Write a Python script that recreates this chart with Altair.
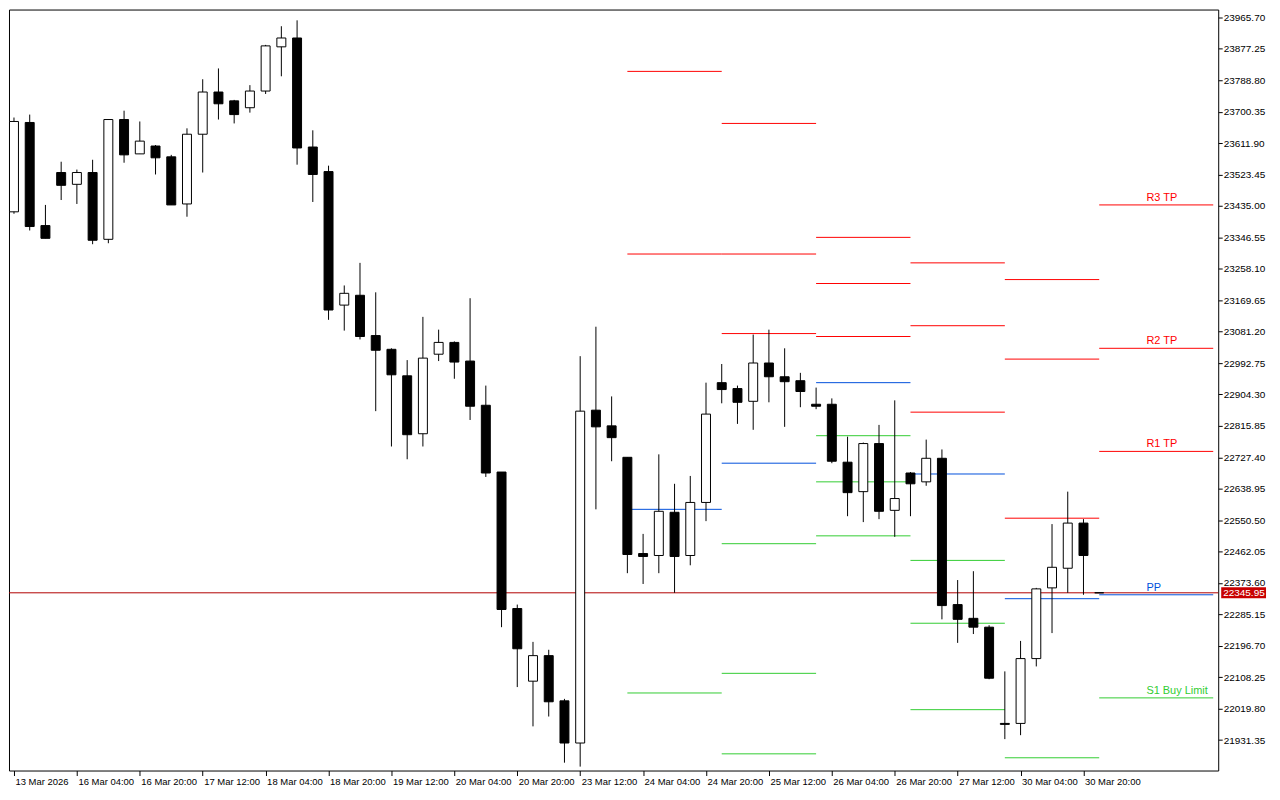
import altair as alt
import pandas as pd

# ---------------- candle data (4h, NAS100-like) ----------------
opens = [23418.4, 23669.9, 23379.7, 23529.0, 23495.8, 23529.0, 23341.0, 23678.2, 23581.5, 23603.6,
         23573.2, 23440.5, 23636.8, 23755.6, 23730.8, 23711.4, 23758.4, 23882.8, 23907.7, 23600.8,
         23531.7, 23155.8, 23183.5, 23070.1, 23031.4, 22956.8, 22793.7, 23017.6, 23050.8, 22998.3,
         22873.9, 22685.9, 22301.7, 22097.2, 22169.1, 22041.9, 21923.1, 22860.1, 22815.9, 22727.4,
         22456.5, 22451.0, 22572.6, 22451.0, 22600.3, 22937.5, 22920.9, 22885.0, 22992.8, 22954.1,
         22943.0, 22876.7, 22876.7, 22713.6, 22630.7, 22766.1, 22578.1, 22683.2, 22658.3, 22724.6,
         22312.8, 22274.1, 22249.2, 21978.3, 21978.3, 22160.8, 22359.8, 22415.1, 22542.2, 22346.0]
highs = [23683.8, 23692.1, 23437.8, 23559.4, 23537.3, 23564.9, 23678.2, 23703.1, 23672.7, 23606.4,
         23578.7, 23653.4, 23791.6, 23822.0, 23733.5, 23775.0, 23888.3, 23940.8, 23957.4, 23647.8,
         23548.3, 23211.1, 23274.7, 23191.8, 23034.2, 23001.0, 23122.7, 23086.7, 23053.6, 23175.2,
         22929.2, 22685.9, 22312.8, 22207.8, 22185.6, 22047.4, 23012.1, 23095.0, 22898.8, 22727.4,
         22511.8, 22735.7, 22652.8, 22674.9, 22937.5, 22990.0, 22929.2, 23072.9, 23086.7, 23034.2,
         22965.1, 22923.6, 22893.2, 22785.4, 22768.9, 22818.6, 22887.7, 22685.9, 22777.2, 22749.5,
         22381.9, 22406.8, 22254.7, 22124.8, 22210.5, 22359.8, 22539.4, 22630.7, 22553.3, 22346.0]
lows = [23412.9, 23365.9, 23343.8, 23451.6, 23440.5, 23327.2, 23330.0, 23556.6, 23581.5, 23523.5,
        23437.8, 23404.6, 23529.0, 23678.2, 23667.2, 23697.6, 23750.1, 23799.9, 23551.1, 23446.1,
        23114.4, 23084.0, 23059.1, 22857.3, 22757.8, 22721.9, 22757.8, 22998.3, 22948.5, 22832.4,
        22672.1, 22249.2, 22080.6, 21970.0, 21997.7, 21867.8, 21856.7, 22580.9, 22716.3, 22401.2,
        22370.8, 22401.2, 22346.0, 22423.4, 22547.7, 22879.4, 22821.4, 22804.8, 22882.2, 22813.1,
        22868.4, 22862.8, 22710.8, 22561.6, 22545.0, 22553.3, 22503.5, 22561.6, 22647.2, 22271.3,
        22205.0, 22229.9, 22102.7, 21934.1, 21945.2, 22138.7, 22232.6, 22346.0, 22340.4, 22345.9]
closes = [23672.7, 23377.0, 23343.8, 23493.0, 23529.0, 23338.3, 23678.2, 23578.7, 23617.4, 23570.4,
          23437.8, 23636.8, 23755.6, 23722.5, 23692.1, 23758.4, 23885.5, 23907.7, 23598.1, 23523.5,
          23142.0, 23189.0, 23067.4, 23028.7, 22959.6, 22791.0, 23006.6, 23050.8, 22995.5, 22871.1,
          22683.2, 22299.0, 22188.4, 22169.1, 22039.2, 21923.1, 22857.3, 22813.1, 22782.7, 22453.8,
          22448.2, 22575.4, 22448.2, 22600.3, 22849.0, 22918.1, 22882.2, 22992.8, 22954.1, 22940.2,
          22912.6, 22871.1, 22716.3, 22627.9, 22766.1, 22575.4, 22611.3, 22652.8, 22724.6, 22310.0,
          22271.3, 22249.2, 22105.5, 21975.6, 22160.8, 22357.0, 22417.8, 22542.2, 22451.0, 22345.95]

# ---------------- daily pivot levels (segments) ----------------
seg_start = [39, 45, 51, 57, 63, 69]
seg_end = [45, 51, 57, 63, 69, 76.25]
R3 = [None, 23667.2, 23346.5, 23274.7, 23227.7, 23437.8]
R2 = [23813.7, 23299.6, 23216.6, 23097.8, 23003.8, 23034.2]
R1 = [23299.6, 23075.7, 23067.4, 22854.5, 22556.0, 22744.0]
PP = [22580.9, 22710.8, 22937.5, 22680.4, 22329.4, 22340.4]
S1 = [22064.0, 22484.2, 22788.2, 22437.2, 21881.6, 22050.2]
S2 = [None, 22119.3, 22658.3, 22260.3, None, None]
S3 = [None, 21892.7, 22506.3, 22017.0, None, None]

level_labels = ["R3 TP", "R2 TP", "R1 TP", "PP", "S1 Buy Limit"]
level_label_kind = ["R", "R", "R", "P", "S"]
level_label_x = 72

current_price = 22345.95

# ---------------- axis labels ----------------
x_tick_idx = [0, 4, 8, 12, 16, 20, 24, 28, 32, 36, 40, 44, 48, 52, 56, 60, 64, 68]
x_tick_labels = ["13 Mar 2026", "16 Mar 04:00", "16 Mar 20:00", "17 Mar 12:00", "18 Mar 04:00",
                 "18 Mar 20:00", "19 Mar 12:00", "20 Mar 04:00", "20 Mar 20:00", "23 Mar 12:00",
                 "24 Mar 04:00", "24 Mar 20:00", "25 Mar 12:00", "26 Mar 04:00", "26 Mar 20:00",
                 "27 Mar 12:00", "30 Mar 04:00", "30 Mar 20:00"]
y_ticks = [23965.70, 23877.25, 23788.80, 23700.35, 23611.90, 23523.45, 23435.00, 23346.55,
           23258.10, 23169.65, 23081.20, 22992.75, 22904.30, 22815.85, 22727.40, 22638.95,
           22550.50, 22462.05, 22373.60, 22285.15, 22196.70, 22108.25, 22019.80, 21931.35]

# ---------------- build tables ----------------
candles = pd.DataFrame({"i": list(range(len(opens))), "o": opens, "h": highs, "l": lows, "c": closes})

rows = []
for k in range(len(seg_start)):
    for kind, arr in (("R", R3), ("R", R2), ("R", R1), ("P", PP), ("S", S1), ("S", S2), ("S", S3)):
        if arr[k] is not None:
            rows.append({"x0": seg_start[k], "x1": seg_end[k], "y": arr[k], "kind": kind})
levels = pd.DataFrame(rows)

last = len(seg_start) - 1
lab_vals = [R3[last], R2[last], R1[last], PP[last], S1[last]]
labels_df = pd.DataFrame({"x": [level_label_x] * 5, "y": lab_vals, "t": level_labels, "kind": level_label_kind})

price_df = pd.DataFrame({"p": [current_price], "t": [f"{current_price:.2f}"]})

W, H = 1214, 764
FONT = "Liberation Sans"
xs = alt.Scale(domain=[0, 76.25], nice=False, zero=False)
ys = alt.Scale(domain=[21845.7, 23987.8], nice=False, zero=False)

label_expr = "[" + ",".join(f"'{s}'" for s in x_tick_labels) + "][round(datum.value/4)]"
x_axis = alt.Axis(values=x_tick_idx, labelExpr=label_expr, orient="bottom", tickSize=5,
                  labelAlign="left", labelBaseline="top", labelPadding=1, labelOffset=1,
                  labelOverlap=False, labelFlush=False, labelBound=False, grid=False,
                  domain=False, tickColor="black", labelColor="black",
                  labelFont=FONT, labelFontSize=9.5)
y_axis = alt.Axis(values=y_ticks, format=".2f", orient="right", tickSize=4, labelPadding=1,
                  labelOverlap=False, labelFlush=False, grid=False, domain=False,
                  tickColor="black", labelColor="black", labelFont=FONT, labelFontSize=10)

col_scale = alt.Scale(domain=["R", "P", "S"], range=["#ff0000", "#0050dc", "#32cd32"])

base = alt.Chart(candles)

wicks = base.mark_rule(color="black", strokeWidth=1).encode(
    x=alt.X("i:Q", scale=xs, axis=x_axis, title=None),
    y=alt.Y("l:Q", scale=ys, axis=y_axis, title=None),
    y2="h:Q",
)
bodies = base.mark_bar(size=9, stroke="black", strokeWidth=1).encode(
    x=alt.X("i:Q", scale=xs, axis=x_axis, title=None),
    y=alt.Y("o:Q", scale=ys, axis=y_axis, title=None),
    y2="c:Q",
    fill=alt.condition("datum.c > datum.o", alt.value("white"), alt.value("black")),
)

lvl = alt.Chart(levels).mark_rule(strokeWidth=1, clip=True).encode(
    x=alt.X("x0:Q", scale=xs, axis=x_axis, title=None),
    x2="x1:Q",
    y=alt.Y("y:Q", scale=ys, axis=y_axis, title=None),
    color=alt.Color("kind:N", scale=col_scale, legend=None),
)

lbl = alt.Chart(labels_df).mark_text(align="left", baseline="alphabetic", dy=-4,
                                      font=FONT, fontSize=11).encode(
    x=alt.X("x:Q", scale=xs, axis=x_axis, title=None),
    y=alt.Y("y:Q", scale=ys, axis=y_axis, title=None),
    text="t:N",
    color=alt.Color("kind:N", scale=col_scale, legend=None),
)

pline = alt.Chart(price_df).mark_rule(color="#b00000", strokeWidth=1).encode(
    x=alt.value(0), x2=alt.value(W),
    y=alt.Y("p:Q", scale=ys, axis=y_axis, title=None),
)
pbox = alt.Chart(price_df).mark_rule(color="#c80000", strokeWidth=11, strokeCap="butt").encode(
    x=alt.value(W + 3), x2=alt.value(W + 48),
    y=alt.Y("p:Q", scale=ys, axis=y_axis, title=None),
)
ptext = alt.Chart(price_df).mark_text(align="left", baseline="middle", color="white",
                                       font=FONT, fontSize=10).encode(
    x=alt.value(W + 5),
    y=alt.Y("p:Q", scale=ys, axis=y_axis, title=None),
    text="t:N",
)

chart = alt.layer(lvl, pline, wicks, bodies, lbl, pbox, ptext).properties(
    width=W, height=H,
    padding={"left": 0, "top": 0, "right": 0, "bottom": 0},
    background="white",
).configure_view(stroke="black", strokeWidth=1)

chart.save("out.html", embed_options={"renderer": "svg", "actions": False})
